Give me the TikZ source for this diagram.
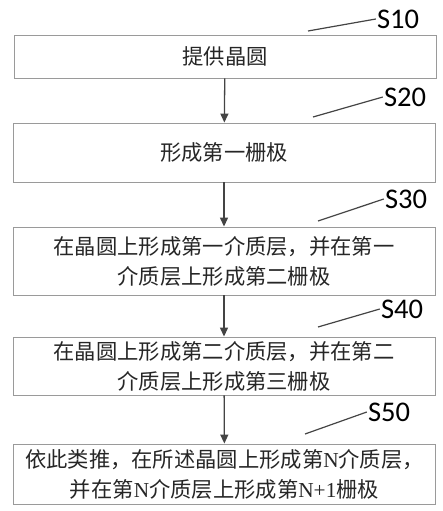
\documentclass[tikz,border=0pt]{standalone}
\usepackage{fontspec}
\setmainfont{Liberation Serif}
\newfontfamily\cjk{Noto Sans CJK SC}
\newfontfamily\lbl{Carlito}
\usetikzlibrary{arrows.meta}
\definecolor{boxgray}{HTML}{9A9A9A}
\definecolor{inkgray}{HTML}{444444}
\tikzset{
  stepbox/.style={draw=boxgray,line width=0.9pt,minimum width=422pt,align=center,
    font=\fontsize{21.3}{30}\selectfont\cjk,text=black!85},
  flow/.style={draw=inkgray,line width=1.3pt,-{Triangle[length=9pt,width=8pt]}},
  tag/.style={font=\fontsize{28.5}{28}\selectfont\lbl,inner sep=1pt},
  leader/.style={draw=inkgray,line width=1.2pt}
}
\begin{document}
\begin{tikzpicture}[x=1pt,y=-1pt]
    \useasboundingbox (0,0) rectangle (443,511);
    %% steps
    \node[stepbox,minimum height=43pt] (s1) at (225,56.5) {提供晶圆};
    \node[stepbox,minimum height=59pt] (s2) at (224,152.5) {形成第一栅极};
    \node[stepbox,minimum height=68pt] (s3) at (224,261) {在晶圆上形成第一介质层，并在第一\\介质层上形成第二栅极};
    \node[stepbox,minimum height=58pt] (s4) at (224,366) {在晶圆上形成第二介质层，并在第二\\介质层上形成第三栅极};
    \node[stepbox,minimum height=60pt] (s5) at (224.5,474) {依此类推，在所述晶圆上形成第{\rmfamily N}介质层，\\并在第{\rmfamily N}介质层上形成第{\rmfamily N+1}栅极};
    %% arrows
    \draw[flow] (s1) -- (s2);
    \draw[flow] (s2) -- (s3);
    \draw[flow] (s3) -- (s4);
    \draw[flow] (s4) -- (s5);
    %% labels
    \node[tag] (t1) at (398,19) {S10};
    \node[tag] (t2) at (405,97) {S20};
    \node[tag] (t3) at (406,199) {S30};
    \node[tag] (t4) at (402,309) {S40};
    \node[tag] (t5) at (389,412) {S50};
    \coordinate (c1) at (308,31);
    \coordinate (c2) at (313,117);
    \coordinate (c3) at (318,221);
    \coordinate (c4) at (318,327);
    \coordinate (c5) at (305,434);
    \draw[leader] (c1) -- (t1.west);
    \draw[leader] (c2) -- (t2.west);
    \draw[leader] (c3) -- (t3.west);
    \draw[leader] (c4) -- (t4.west);
    \draw[leader] (c5) -- (t5.west);
\end{tikzpicture}
\end{document}
